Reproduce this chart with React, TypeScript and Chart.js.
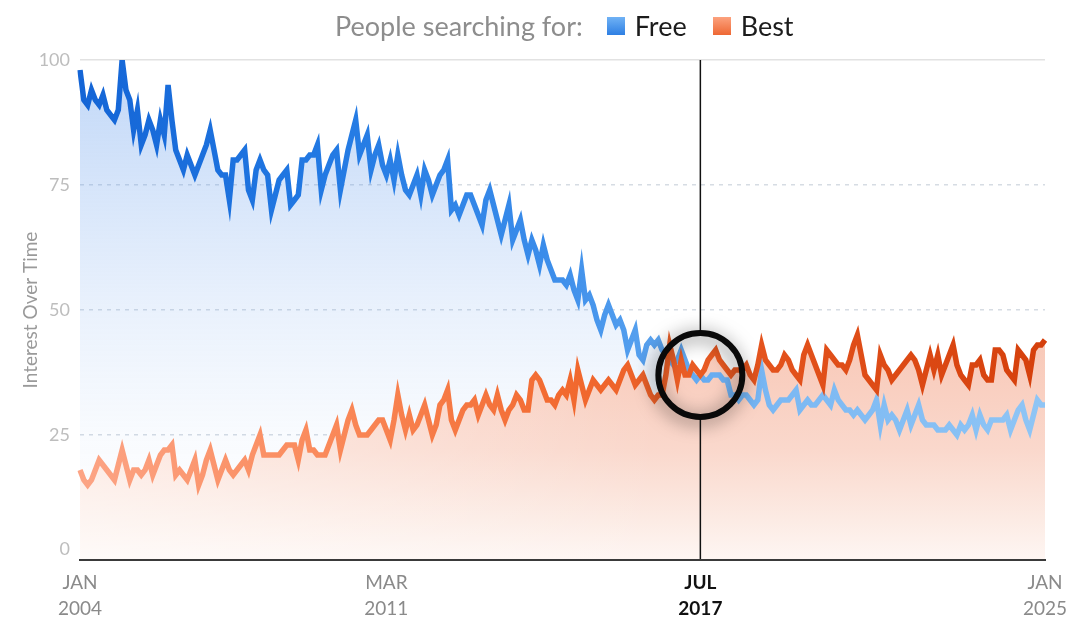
import React, { useEffect, useRef } from 'react';
import { Chart, registerables } from 'chart.js';

Chart.register(...registerables);

const FONT = 'Lato, "Open Sans", sans-serif';

const SERIES_FREE = 'Free';
const SERIES_BEST = 'Best';
const LEGEND_TITLE = 'People searching for:';
const Y_TITLE = 'Interest Over Time';

const START_YEAR = 2004;
const MONTH_ABBR = ['JAN', 'FEB', 'MAR', 'APR', 'MAY', 'JUN', 'JUL', 'AUG', 'SEP', 'OCT', 'NOV', 'DEC'];

// Monthly interest, Jan 2004 .. Jan 2025
const freeValues = [
  98, 92, 91, 94, 92, 91, 93, 90, 89, 88,
  90, 100, 94, 92, 86, 90, 83, 85, 88, 86,
  83, 88, 85, 95, 88, 82, 80, 78, 81, 79,
  77, 79, 81, 83, 86, 82, 78, 77, 77, 72,
  80, 80, 81, 82, 74, 72, 78, 80, 78, 77,
  70, 73, 76, 77, 78, 71, 72, 73, 80, 80,
  81, 81, 83, 74, 77, 79, 81, 82, 74, 78,
  82, 85, 88, 81, 83, 85, 78, 81, 83, 79,
  77, 80, 76, 81, 77, 74, 73, 75, 77, 73,
  78, 76, 73, 75, 77, 78, 80, 70, 71, 69,
  71, 73, 73, 71, 69, 67, 72, 74, 71, 68,
  65, 68, 71, 64, 66, 68, 64, 61, 64, 62,
  59, 63, 60, 58, 56, 56, 56, 55, 57, 54,
  52, 58, 52, 53, 51, 48, 46, 49, 51, 49,
  47, 48, 46, 42, 44, 46, 41, 40, 43, 44,
  43, 44, 42, 41, 40, 39, 40, 42, 40, 38,
  37, 36, 37, 36, 36, 37, 37, 37, 36, 36,
  33, 33, 32, 33, 33, 32, 31, 32, 38, 34,
  31, 30, 31, 32, 32, 32, 33, 34, 30, 31,
  32, 31, 31, 32, 33, 32, 31, 34, 32, 31,
  30, 30, 29, 30, 29, 28, 29, 30, 32, 27,
  31, 28, 29, 28, 26, 28, 30, 27, 29, 31,
  28, 27, 27, 27, 26, 26, 26, 27, 26, 25,
  27, 26, 27, 29, 26, 29, 27, 26, 28, 28,
  28, 28, 29, 26, 28, 30, 31, 28, 26, 29,
  32, 31, 31,
];

const bestValues = [
  18, 16, 15, 16, 18, 20, 19, 18, 17, 16,
  19, 22, 19, 16, 18, 18, 17, 18, 20, 17,
  19, 21, 22, 22, 23, 17, 18, 17, 16, 18,
  20, 15, 17, 20, 22, 19, 16, 18, 20, 18,
  17, 18, 19, 20, 18, 21, 23, 25, 21, 21,
  21, 21, 21, 22, 23, 23, 23, 20, 24, 26,
  22, 22, 21, 21, 21, 23, 25, 27, 22, 25,
  28, 30, 27, 25, 25, 25, 26, 27, 28, 28,
  26, 24, 28, 33, 29, 26, 29, 26, 27, 29,
  31, 28, 25, 27, 31, 32, 34, 28, 26, 28,
  30, 31, 31, 32, 29, 31, 33, 31, 30, 33,
  30, 28, 30, 31, 33, 32, 30, 30, 36, 37,
  36, 34, 32, 32, 31, 33, 34, 33, 36, 32,
  38, 35, 32, 34, 36, 35, 34, 35, 36, 35,
  34, 36, 38, 39, 37, 35, 36, 37, 35, 33,
  32, 33, 33, 37, 43, 40, 36, 40, 37, 37,
  39, 38, 37, 38, 40, 41, 42, 40, 39, 38,
  37, 38, 38, 38, 39, 37, 36, 39, 43, 40,
  39, 38, 38, 39, 41, 40, 38, 37, 36, 41,
  43, 41, 39, 37, 35, 42, 41, 40, 39, 39,
  38, 40, 43, 45, 41, 37, 36, 35, 34, 41,
  39, 38, 36, 37, 38, 39, 40, 41, 40, 38,
  35, 38, 41, 38, 41, 37, 39, 41, 43, 39,
  37, 36, 35, 39, 39, 40, 37, 36, 36, 42,
  42, 41, 38, 37, 36, 42, 41, 40, 37, 42,
  43, 43, 44,
];

const categories: string[] = freeValues.map(
  (_, i) => `${MONTH_ABBR[i % 12]} ${START_YEAR + Math.floor(i / 12)}`
);

const xTickIndices = [0, 80, 162, 252];
const xTickLabels = [
  ['JAN', '2004'],
  ['MAR', '2011'],
  ['JUL', '2017'],
  ['JAN', '2025'],
];
const yTicks = [0, 25, 50, 75, 100];

const HIGHLIGHT_INDEX = 162;
const HIGHLIGHT_VALUE = 37;

type Stop = [number, string];

const FREE_LINE_STOPS: Stop[] = [
  [0, '#1465d6'],
  [0.25, '#2279e3'],
  [0.48, '#3a8cea'],
  [0.6, '#5aa3ef'],
  [0.72, '#7bb8f3'],
  [1, '#8fc5f5'],
];
const BEST_LINE_STOPS: Stop[] = [
  [0, '#fca485'],
  [0.25, '#fa8a5b'],
  [0.5, '#f26a30'],
  [0.72, '#e3521c'],
  [1, '#d5400c'],
];
const FREE_FILL_STOPS: Stop[] = [
  [0, 'rgba(90,150,235,0.38)'],
  [0.25, 'rgba(90,150,235,0.25)'],
  [0.5, 'rgba(90,150,235,0.13)'],
  [0.75, 'rgba(90,150,235,0.04)'],
  [1, 'rgba(90,150,235,0)'],
];
const BEST_FILL_STOPS: Stop[] = [
  [0, 'rgb(247,196,178)'],
  [0.55, 'rgb(248,200,183)'],
  [0.78, 'rgb(250,216,204)'],
  [0.92, 'rgb(252,235,228)'],
  [1, 'rgb(254,246,243)'],
];
// white veil over the orange fill, strongest at the left edge
const BEST_FILL_VEIL: Stop[] = [
  [0, 'rgba(255,255,255,0.5)'],
  [0.3, 'rgba(255,255,255,0.25)'],
  [0.6, 'rgba(255,255,255,0)'],
  [1, 'rgba(255,255,255,0)'],
];

function lineGradient(stops: Stop[]) {
  return (c: any) => {
    const chart = c.chart;
    const a = chart.chartArea;
    if (!a) return stops[0][1];
    const g = chart.ctx.createLinearGradient(a.left, 0, a.right, 0);
    stops.forEach(([o, col]) => g.addColorStop(o, col));
    return g;
  };
}

function fillGradient(stops: Stop[]) {
  return (c: any) => {
    const chart = c.chart;
    const y = chart.scales && chart.scales.y;
    if (!chart.chartArea || !y) return stops[0][1];
    const g = chart.ctx.createLinearGradient(0, y.getPixelForValue(100), 0, y.getPixelForValue(0));
    stops.forEach(([o, col]) => g.addColorStop(o, col));
    return g;
  };
}

function fillPattern(stops: Stop[], veil: Stop[]) {
  let cacheKey = '';
  let cached: any = null;
  return (c: any) => {
    const chart = c.chart;
    const a = chart.chartArea;
    const y = chart.scales && chart.scales.y;
    if (!a || !y) return stops[0][1];
    const key = `${chart.width}x${chart.height}:${a.left},${a.top},${a.right},${a.bottom}`;
    if (key === cacheKey && cached) return cached;
    const off = document.createElement('canvas');
    off.width = chart.width;
    off.height = chart.height;
    const o = off.getContext('2d');
    if (!o) return stops[0][1];
    const gv = o.createLinearGradient(0, y.getPixelForValue(100), 0, y.getPixelForValue(0));
    stops.forEach(([p, col]) => gv.addColorStop(p, col));
    o.fillStyle = gv;
    o.fillRect(0, 0, off.width, off.height);
    const gh = o.createLinearGradient(a.left, 0, a.right, 0);
    veil.forEach(([p, col]) => gh.addColorStop(p, col));
    o.fillStyle = gh;
    o.fillRect(0, 0, off.width, off.height);
    cached = chart.ctx.createPattern(off, 'no-repeat');
    cacheKey = key;
    return cached;
  };
}

const highlightPlugin = {
  id: 'highlight',
  afterDatasetsDraw(chart: any) {
    const { ctx, chartArea, scales } = chart;
    const cx = scales.x.getPixelForValue(HIGHLIGHT_INDEX);
    const cy = scales.y.getPixelForValue(HIGHLIGHT_VALUE);
    const r = 42;
    ctx.save();
    ctx.strokeStyle = '#111';
    ctx.lineWidth = 1.5;
    ctx.beginPath();
    ctx.moveTo(cx, chartArea.top);
    ctx.lineTo(cx, cy - r);
    ctx.moveTo(cx, cy + r);
    ctx.lineTo(cx, chartArea.bottom);
    ctx.stroke();
    ctx.shadowColor = 'rgba(0,0,0,0.6)';
    ctx.shadowBlur = 18;
    ctx.shadowOffsetX = -2;
    ctx.shadowOffsetY = 3;
    ctx.lineWidth = 6;
    ctx.strokeStyle = '#0a0a0a';
    ctx.beginPath();
    ctx.arc(cx, cy, r, 0, Math.PI * 2);
    ctx.stroke();
    ctx.restore();
  },
};

export default function App() {
  const canvasRef = useRef<HTMLCanvasElement>(null);

  useEffect(() => {
    const canvas = canvasRef.current;
    if (!canvas) return;
    Chart.defaults.font.family = FONT;
    const chart = new Chart(canvas, {
      type: 'line',
      data: {
        labels: categories,
        datasets: [
          {
            label: SERIES_BEST,
            data: bestValues,
            borderColor: lineGradient(BEST_LINE_STOPS),
            backgroundColor: fillPattern(BEST_FILL_STOPS, BEST_FILL_VEIL),
            borderWidth: 5.5,
            borderJoinStyle: 'miter',
            fill: 'origin',
            pointRadius: 0,
            tension: 0,
          },
          {
            label: SERIES_FREE,
            data: freeValues,
            borderColor: lineGradient(FREE_LINE_STOPS),
            backgroundColor: fillGradient(FREE_FILL_STOPS),
            borderWidth: 5.5,
            borderJoinStyle: 'miter',
            fill: 'origin',
            pointRadius: 0,
            tension: 0,
          },
        ],
      },
      options: {
        animation: false,
        responsive: false,
        devicePixelRatio: 1,
        events: [],
        layout: { padding: { top: 60, right: 33, left: 0, bottom: 0 } },
        plugins: {
          legend: { display: false },
          tooltip: { enabled: false },
          filler: { drawTime: 'beforeDatasetsDraw' },
        } as any,
        scales: {
          x: {
            type: 'category',
            offset: false,
            afterFit: (s: any) => {
              s.height = 77;
            },
            afterBuildTicks: (s: any) => {
              s.ticks = xTickIndices.map((v) => ({ value: v }));
            },
            grid: { display: false },
            border: { display: true, color: '#3a3a3a', width: 2, z: 1 } as any,
            ticks: {
              autoSkip: false,
              maxRotation: 0,
              minRotation: 0,
              padding: 2,
              color: (c: any) => (c.tick && c.tick.value === HIGHLIGHT_INDEX ? '#111111' : '#8a8a8a'),
              font: (c: any) => ({
                family: FONT,
                size: 19,
                lineHeight: 1.38,
                weight: c.tick && c.tick.value === HIGHLIGHT_INDEX ? 'bold' : 'normal',
              }),
              callback: (value: any) => {
                const k = xTickIndices.indexOf(Number(value));
                return k >= 0 ? xTickLabels[k] : '';
              },
            },
          },
          y: {
            min: 0,
            max: 100,
            afterFit: (s: any) => {
              s.width = 80;
            },
            afterBuildTicks: (s: any) => {
              s.ticks = yTicks.map((v) => ({ value: v }));
            },
            ticks: {
              color: '#bdbdbd',
              padding: 10,
              font: { family: FONT, size: 18 },
              callback: (v: any) => (Number(v) === 0 ? ['0', ''] : String(v)),
            },
            grid: {
              drawTicks: false,
              lineWidth: 1.5,
              color: (c: any) =>
                c.tick && (c.tick.value === 0 || c.tick.value === 100) ? 'rgba(0,0,0,0)' : '#d6dce3',
            },
            border: { display: false, dash: [4, 5] },
            title: {
              display: true,
              text: Y_TITLE,
              color: '#9a9a9a',
              font: { family: FONT, size: 19 },
              padding: { top: 19, bottom: 0 },
            },
          },
          y2: {
            position: 'right',
            min: 0,
            max: 100,
            afterFit: (s: any) => {
              s.width = 0;
            },
            afterBuildTicks: (s: any) => {
              s.ticks = [{ value: 100 }];
            },
            ticks: { display: false },
            grid: { drawTicks: false, color: '#e2e2e2', lineWidth: 1.5 },
            border: { display: false },
          },
        },
      },
      plugins: [highlightPlugin],
    } as any);
    return () => chart.destroy();
  }, []);

  const square = (bg: string) => (
    <span
      style={{
        display: 'inline-block',
        width: 18,
        height: 18,
        background: bg,
        marginRight: 10,
      }}
    />
  );

  return (
    <div style={{ position: 'absolute', left: 0, top: 0, width: 1078, height: 637, background: '#fff' }}>
      <canvas ref={canvasRef} width={1078} height={637} style={{ display: 'block', position: 'absolute', left: 0, top: 0 }} />
      <div
        style={{
          position: 'absolute',
          top: 7,
          left: 335,
          display: 'flex',
          alignItems: 'center',
          fontFamily: FONT,
          fontSize: 27,
          lineHeight: '38px',
          whiteSpace: 'nowrap',
        }}
      >
        <span style={{ color: '#8d8d8d', marginRight: 24 }}>{LEGEND_TITLE}</span>
        {square('linear-gradient(180deg, #70b2f5, #2e7fe3)')}
        <span style={{ color: '#1c1c1c', marginRight: 26 }}>{SERIES_FREE}</span>
        {square('linear-gradient(180deg, #fca27e, #ee6834)')}
        <span style={{ color: '#1c1c1c' }}>{SERIES_BEST}</span>
      </div>
    </div>
  );
}
